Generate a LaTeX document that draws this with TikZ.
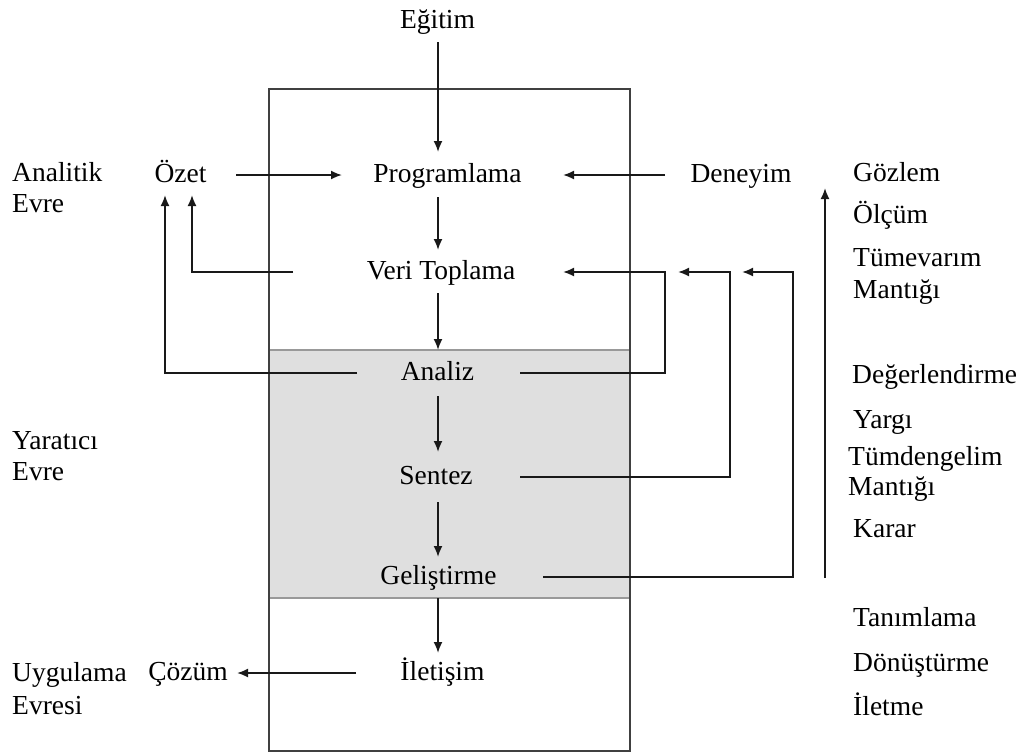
\documentclass[tikz,border=0pt]{standalone}
\usepackage{fontspec}
\setmainfont{Liberation Serif}
\usetikzlibrary{arrows.meta}
\begin{document}
\begin{tikzpicture}[x=1pt,y=-1pt,
  lbl/.style={font=\fontsize{27.5}{32}\selectfont, inner sep=0pt, text height=20pt, text depth=5pt},
  side/.style={lbl, anchor=west},
  arr/.style={-{Latex[length=11pt,width=9pt]}, line width=1.8pt, draw=black!90},
  frame/.style={line width=1.8pt, draw=black!75},
  band/.style={line width=2pt, draw=black!40}]
\useasboundingbox (0,0) rectangle (1032,753);

% shaded creative band and outer frame
\fill[gray!25] (269,350) rectangle (630,598);
\draw[band] (269,350) -- (630,350);
\draw[band] (269,598) -- (630,598);
\draw[frame] (269,89) rectangle (630,751);

% central process column
\node[lbl] (egitim) at (437.5,21) {Eğitim};
\node[lbl] (prog) at (447.5,175) {Programlama};
\node[lbl] (veri) at (441,272) {Veri Toplama};
\node[lbl] (analiz) at (437.5,373) {Analiz};
\node[lbl] (sentez) at (436,477) {Sentez};
\node[lbl] (gelis) at (438.5,577) {Geliştirme};
\node[lbl] (ilet) at (442.5,673) {İletişim};

% side items
\node[lbl] (ozet) at (180.5,175) {Özet};
\node[lbl] (cozum) at (188,673) {Çözüm};
\node[lbl] (deneyim) at (741,175) {Deneyim};

% phase names on the left
\node[side] (ph1a) at (12,174) {Analitik};
\node[side] (ph1b) at (12,205) {Evre};
\node[side] (ph2a) at (12,442) {Yaratıcı};
\node[side] (ph2b) at (12,473) {Evre};
\node[side] (ph3a) at (12,674) {Uygulama};
\node[side] (ph3b) at (12,707) {Evresi};

% activities on the right
\node[side] (r1) at (853,174) {Gözlem};
\node[side] (r2) at (853,216) {Ölçüm};
\node[side] (r3) at (853,259) {Tümevarım};
\node[side] (r4) at (853,291) {Mantığı};
\node[side] (r5) at (852,376) {Değerlendirme};
\node[side] (r6) at (853,421) {Yargı};
\node[side] (r7) at (848,458) {Tümdengelim};
\node[side] (r8) at (848,488) {Mantığı};
\node[side] (r9) at (853,530) {Karar};
\node[side] (r10) at (853,619) {Tanımlama};
\node[side] (r11) at (853,664) {Dönüştürme};
\node[side] (r12) at (853,708) {İletme};

% column arrows
\coordinate (col) at (438,0);
\draw[arr, shorten <=21pt, shorten >=23pt] (col |- egitim.center) -- (col |- prog.center);
\draw[arr, shorten <=22pt, shorten >=22pt] (col |- prog.center) -- (col |- veri.center);
\draw[arr, shorten <=21pt, shorten >=23pt] (col |- veri.center) -- (col |- analiz.center);
\draw[arr, shorten <=23pt, shorten >=25pt] (col |- analiz.center) -- (col |- sentez.center);
\draw[arr, shorten <=25pt, shorten >=20pt] (col |- sentez.center) -- (col |- gelis.center);
\draw[arr, shorten <=21pt, shorten >=20pt] (col |- gelis.center) -- (col |- ilet.center);

% horizontal inputs and outputs
\draw[arr, shorten <=55.5pt, shorten >=105.5pt] (ozet.center) -- (prog.center);
\draw[arr, shorten <=76pt, shorten >=115.5pt] (deneyim.center) -- (prog.center);
\draw[arr, shorten <=86.5pt, shorten >=49pt] (ilet.center) -- (cozum.center);

% returns to the summary
\coordinate (vo) at (192,0);
\coordinate (ao) at (165,0);
\draw[arr, shorten <=148pt, shorten >=20pt] (veri.center) -- (veri.center -| vo) -- (ozet.center -| vo);
\draw[arr, shorten <=80.5pt, shorten >=20pt] (analiz.center) -- (analiz.center -| ao) -- (ozet.center -| ao);

% feedback loops to data collection
\coordinate (fa) at (665,0);
\coordinate (fs) at (730,0);
\coordinate (fg) at (793,0);
\draw[arr, shorten <=82.5pt, shorten >=122pt] (analiz.center) -- (analiz.center -| fa) -- (veri.center -| fa) -- (veri.center);
\draw[arr, shorten <=84pt, shorten >=237pt] (sentez.center) -- (sentez.center -| fs) -- (veri.center -| fs) -- (veri.center);
\draw[arr, shorten <=104.5pt, shorten >=301pt] (gelis.center) -- (gelis.center -| fg) -- (veri.center -| fg) -- (veri.center);

% upward arrow beside the activities
\coordinate (up0) at (825,578);
\coordinate (up1) at (825,188);
\draw[arr] (up0) -- (up1);
\end{tikzpicture}
\end{document}
